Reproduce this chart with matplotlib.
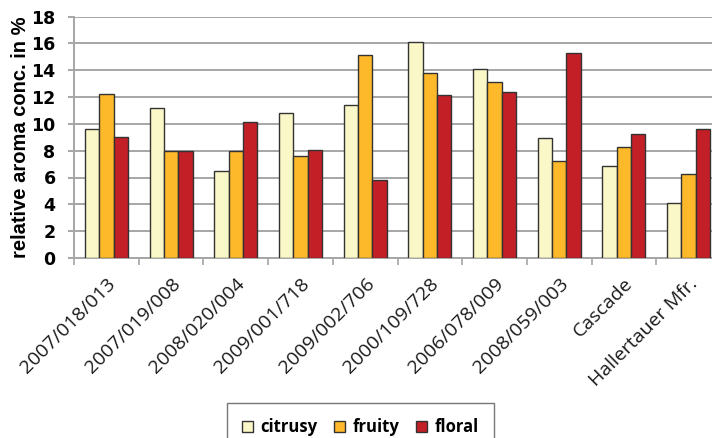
import matplotlib
matplotlib.use("Agg")
import matplotlib.pyplot as plt
import numpy as np

categories = ["2007/018/013", "2007/019/008", "2008/020/004", "2009/001/718",
              "2009/002/706", "2000/109/728", "2006/078/009", "2008/059/003",
              "Cascade", "Hallertauer Mfr."]
citrusy = [9.63, 11.17, 6.52, 10.8, 11.42, 16.09, 14.05, 8.93, 6.89, 4.13]
fruity = [12.24, 7.96, 7.96, 7.59, 15.12, 13.78, 13.13, 7.21, 8.31, 6.29]
floral = [9.05, 7.96, 10.1, 8.06, 5.8, 12.14, 12.36, 15.25, 9.25, 9.63]
series_names = ["citrusy", "fruity", "floral"]
colors = ["#FAF7C8", "#FDB92A", "#C21F27"]
yticks = list(range(0, 19, 2))

fig = plt.figure(figsize=(7.12, 4.38), dpi=100)
ax = fig.add_axes([74/712, (438-258)/438, (721-74)/712, (258-16.5)/438])

x = np.arange(len(categories))
w = 0.222
for i, (vals, name, c) in enumerate(zip([citrusy, fruity, floral], series_names, colors)):
    ax.bar(x + (i-1)*w, vals, width=w, color=c, edgecolor="#333333", linewidth=1.0,
           label=name, zorder=3)

ax.set_xlim(-0.5, len(categories)-0.5)
ax.set_ylim(0, 18)
ax.set_yticks(yticks)
ax.set_yticklabels([str(t) for t in yticks], fontsize=12.5, fontweight="bold",
                   family="DejaVu Sans")
ax.tick_params(axis="y", length=4.3, width=1.4, color="#A6A6A6", pad=9)
ax.yaxis.grid(True, color="#A6A6A6", linewidth=1.4, zorder=0)
ax.set_axisbelow(True)

ax.set_xticks(x)
ax.set_xticklabels(categories, rotation=45, ha="right", va="top",
                   rotation_mode="anchor", fontsize=14, family="Open Sans", color="#1a1a1a")
ax.tick_params(axis="x", length=0, pad=12)
ax.set_xticks(np.arange(-0.5, len(categories), 1.0), minor=True)
ax.tick_params(axis="x", which="minor", length=5, color="#A6A6A6", width=1.2, direction="out")

for s in ["top", "right"]:
    ax.spines[s].set_visible(False)
ax.spines["left"].set_color("#A6A6A6")
ax.spines["left"].set_linewidth(1.4)
ax.spines["bottom"].set_color("#A6A6A6")
ax.spines["bottom"].set_linewidth(1.4)

ax.set_ylabel("relative aroma conc. in %", fontsize=14.5, fontweight="bold",
              family="Liberation Sans", labelpad=1)

leg = fig.legend(loc="upper left", bbox_to_anchor=(227/712, 1 - 403/438), ncol=3,
                 prop={"family": "Open Sans", "weight": "bold", "size": 12},
                 frameon=True, fancybox=False, edgecolor="#555555",
                 handlelength=0.65, handleheight=0.65, handletextpad=0.45,
                 columnspacing=1.0, borderpad=0.9, borderaxespad=0)
leg.get_frame().set_linewidth(1.0)

fig.savefig("out.png", dpi=100)
